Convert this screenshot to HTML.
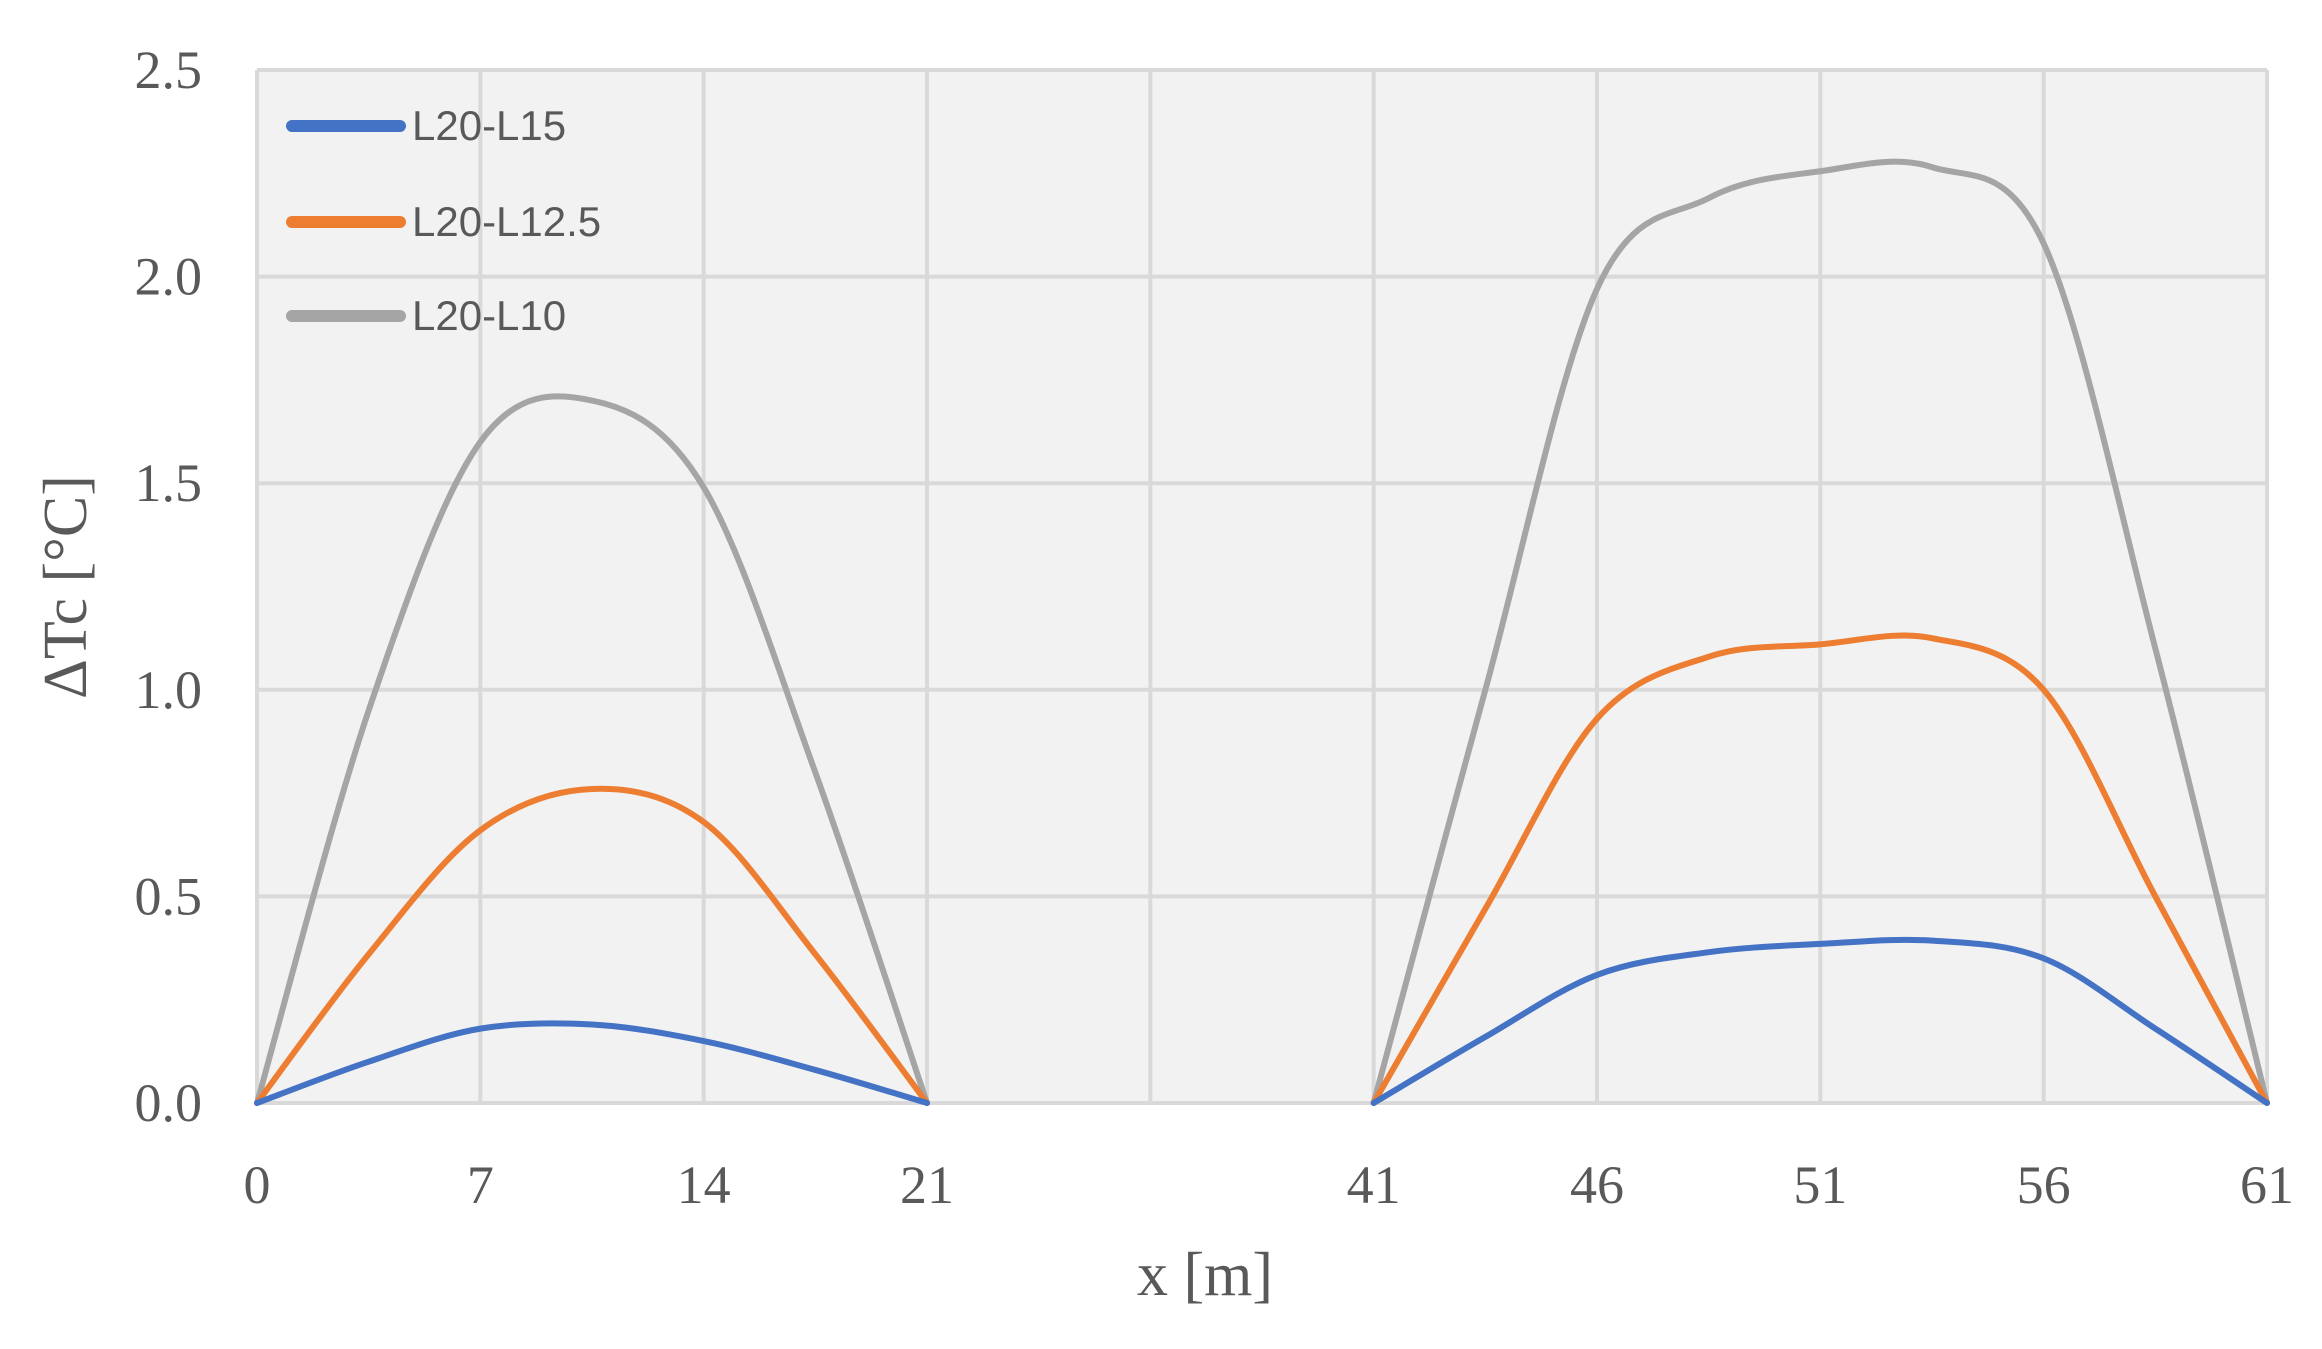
<!DOCTYPE html>
<html><head><meta charset="utf-8"><style>
html,body{margin:0;padding:0;background:#fff;width:2322px;height:1349px;overflow:hidden}
</style></head><body>
<svg id="s" width="2322" height="1349" xmlns="http://www.w3.org/2000/svg">
<rect x="257" y="70" width="2010" height="1033" fill="#f2f2f2"/>
<g id="grid" stroke="#d9d9d9" stroke-width="4"></g>
<g id="lines" fill="none" stroke-width="6" stroke-linecap="round" stroke-linejoin="round"></g>
<g font-family="'Liberation Serif',serif" font-size="54" fill="#595959" id="lbl"></g>
<text x="1205" y="1295" font-family="'Liberation Serif',serif" font-size="62" fill="#595959" text-anchor="middle">x [m]</text>
<text transform="translate(86,587) rotate(-90)" font-family="'Liberation Serif',serif" font-size="62" fill="#595959" text-anchor="middle">ΔTc [°C]</text>
<g font-family="'Liberation Sans Narrow','Liberation Sans',sans-serif" font-size="42" fill="#595959">
<line x1="292" y1="126" x2="400" y2="126" stroke="#4472c4" stroke-width="12" stroke-linecap="round"/>
<text x="412" y="140">L20-L15</text>
<line x1="292" y1="222" x2="400" y2="222" stroke="#ed7d31" stroke-width="12" stroke-linecap="round"/>
<text x="412" y="236">L20-L12.5</text>
<line x1="292" y1="316" x2="400" y2="316" stroke="#a5a5a5" stroke-width="12" stroke-linecap="round"/>
<text x="412" y="330">L20-L10</text>
</g>
</svg>
<script>
var L=257,R=2267,T=70,B=1103,st=(R-L)/9;
function px(x){return L+st*(x<=21?x/7:5+(x-41)/5);}
function py(v){return B-v*(B-T)/2.5;}
var g=document.getElementById('grid'),lb=document.getElementById('lbl'),h='';
for(var i=0;i<=9;i++){var x=L+st*i;h+='<line x1="'+x+'" y1="'+T+'" x2="'+x+'" y2="'+B+'"/>';}
for(var j=0;j<=5;j++){var y=py(j*0.5);h+='<line x1="'+L+'" y1="'+y+'" x2="'+R+'" y2="'+y+'"/>';}
g.innerHTML=h;
var t='';
for(var j=0;j<=5;j++){t+='<text x="202" y="'+(py(j*0.5)+18)+'" text-anchor="end">'+(j*0.5).toFixed(1)+'</text>';}
var xl=['0','7','14','21','','41','46','51','56','61'];
for(var i=0;i<10;i++){if(xl[i])t+='<text x="'+(L+st*i)+'" y="1203" text-anchor="middle">'+xl[i]+'</text>';}
lb.innerHTML=t;
function path(pts){var p=pts.map(function(a){return[px(a[0]),py(a[1])]});var d='M'+p[0][0]+','+p[0][1];
for(var i=0;i<p.length-1;i++){var p0=p[i-1]||p[i],p1=p[i],p2=p[i+1],p3=p[i+2]||p[i+1];
d+=' C'+(p1[0]+(p2[0]-p0[0])/6)+','+(p1[1]+(p2[1]-p0[1])/6)+' '+(p2[0]-(p3[0]-p1[0])/6)+','+(p2[1]-(p3[1]-p1[1])/6)+' '+p2[0]+','+p2[1];}
return d;}
var S=[
['#a5a5a5',[[0,0],[3.5,0.95],[7,1.6],[10.5,1.7],[14,1.49],[17.5,0.8],[21,0]],[[41,0],[43.5,1.0],[46,1.97],[48.5,2.19],[51,2.255],[53.5,2.265],[56,2.08],[58.5,1.1],[61,0]]],
['#ed7d31',[[0,0],[3.5,0.36],[7,0.66],[10.5,0.76],[14,0.68],[17.5,0.36],[21,0]],[[41,0],[43.5,0.47],[46,0.93],[48.5,1.08],[51,1.11],[53.5,1.125],[56,1.0],[58.5,0.5],[61,0]]],
['#4472c4',[[0,0],[3.5,0.1],[7,0.18],[10.5,0.19],[14,0.15],[17.5,0.08],[21,0]],[[41,0],[43.5,0.16],[46,0.31],[48.5,0.365],[51,0.385],[53.5,0.393],[56,0.35],[58.5,0.18],[61,0]]]];
var lh='';S.forEach(function(s){lh+='<path stroke="'+s[0]+'" d="'+path(s[1])+'"/><path stroke="'+s[0]+'" d="'+path(s[2])+'"/>';});
document.getElementById('lines').innerHTML=lh;
</script>
</body></html>
